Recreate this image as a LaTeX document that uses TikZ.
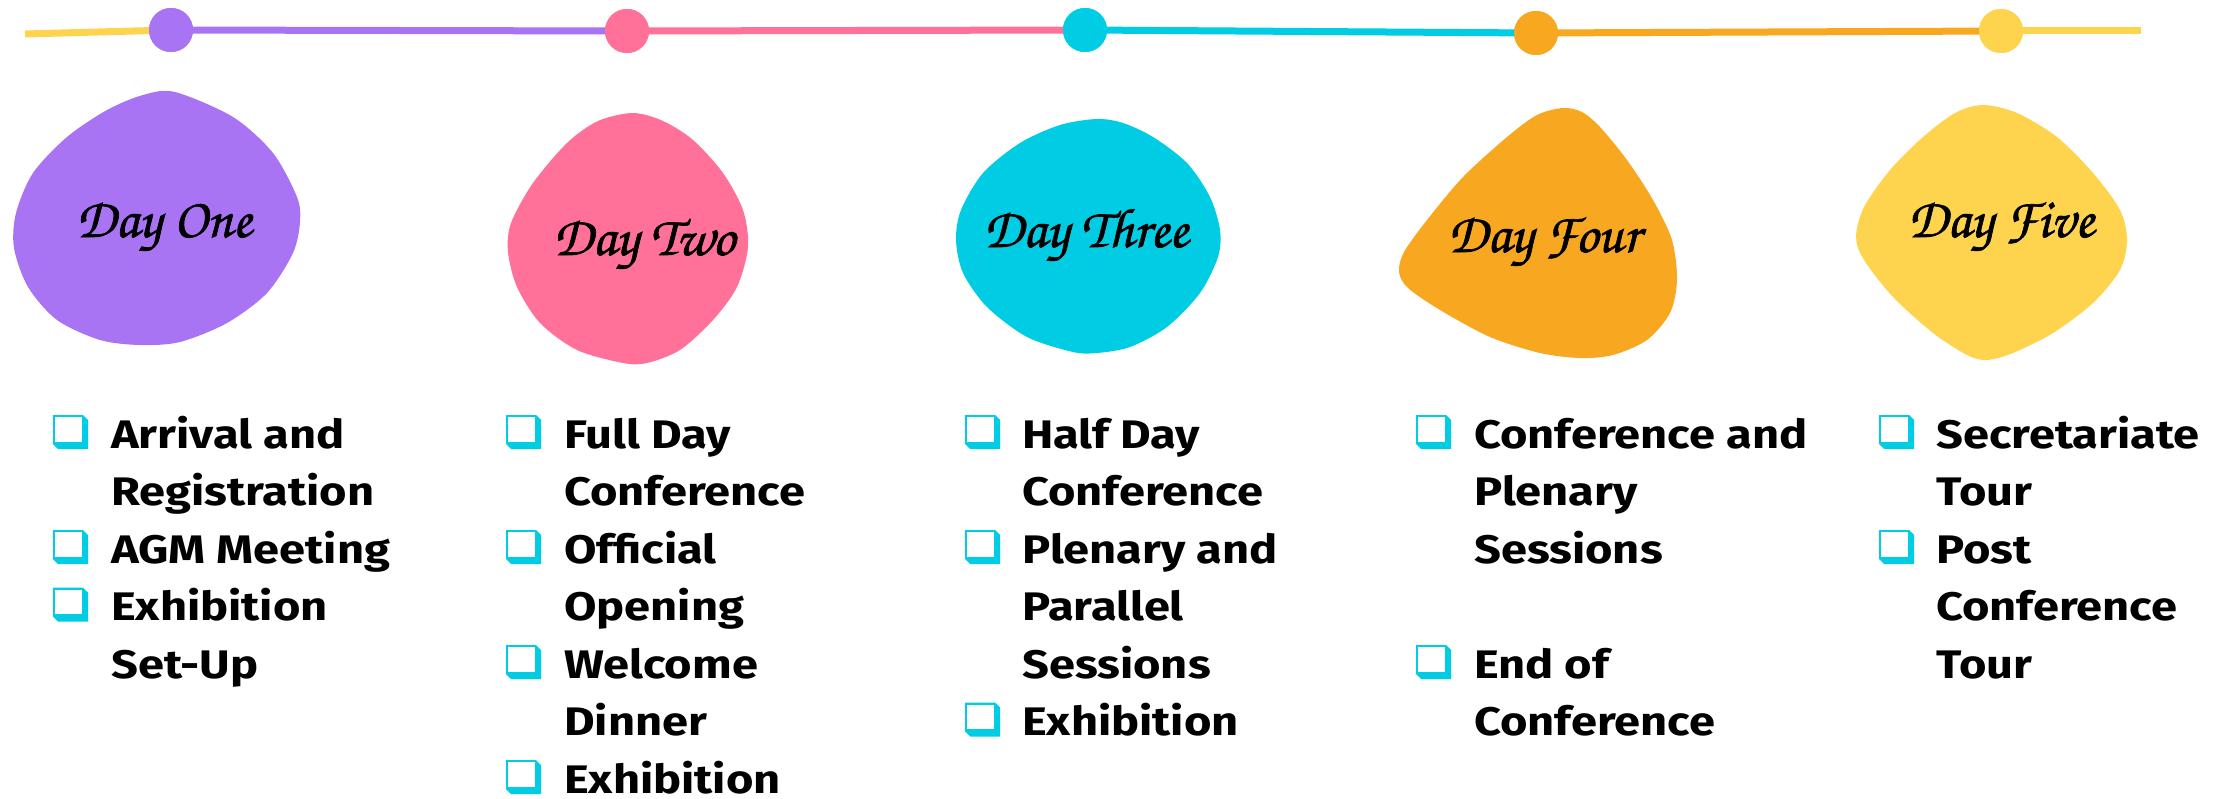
\documentclass[tikz,border=0pt]{standalone}
\usepackage{fontspec}
\newfontfamily\itemfont{Fira Sans}[FakeStretch=1.18]
\newfontfamily\dayfont{texgyrechorus-mediumitalic.otf}[FakeBold=1.2]
\definecolor{cPurple}{HTML}{A874F3}
\definecolor{cPink}{HTML}{FF7199}
\definecolor{cCyan}{HTML}{00CDE4}
\definecolor{cOrange}{HTML}{F8A820}
\definecolor{cYellow}{HTML}{FED44E}
\tikzset{
  itm/.style={font=\itemfont\bfseries\fontsize{40}{47}\selectfont, anchor=base west, inner sep=0pt, text depth=0pt},
  dayl/.style={font=\dayfont\fontsize{56}{60}\selectfont, anchor=base, inner sep=0pt},
  dot/.style={circle, minimum size=44bp, inner sep=0pt},
  tl/.style={line width=7bp},
  blob/.style={smooth cycle, tension=0.5},
  chk/.pic={
    \fill[cCyan] (0,0) -- (30,0) -- (35,5) -- (35,34) -- (5,34) -- (0,29) -- cycle;
    \fill[white] (2.4,2.4) rectangle (29,26.8);
  }
}
\begin{document}
\begin{tikzpicture}[x=1bp,y=-1bp]
\useasboundingbox (0,0) rectangle (2229,798);
% timeline
\coordinate (s) at (25,34);
\coordinate (e) at (2141,31);
\node[dot, fill=cPurple] (d1) at (171,30) {};
\node[dot, fill=cPink] (d2) at (627,31) {};
\node[dot, fill=cCyan] (d3) at (1085,30) {};
\node[dot, fill=cOrange] (d4) at (1536,33) {};
\node[dot, fill=cYellow] (d5) at (2001,31) {};
\draw[tl, cYellow] (s) -- (d1.center);
\draw[tl, cPurple] (d1.center) -- (d2.center);
\draw[tl, cPink] (d2.center) -- (d3.center);
\draw[tl, cCyan] (d3.center) -- (d4.center);
\draw[tl, cOrange] (d4.center) -- (d5.center);
\draw[tl, cYellow] (d5.center) -- (e);
\fill[cPurple] (d1) circle (22);
\fill[cPink] (d2) circle (22);
\fill[cCyan] (d3) circle (22);
\fill[cOrange] (d4) circle (22);
\fill[cYellow] (d5) circle (22);
% blobs
\fill[cPurple] plot[blob] coordinates {(175,92) (233,117) (273,153) (297,197) (300,222) (293,253) (267,293) (227,323) (180,342) (140,345) (100,340) (57,320) (28,287) (14,248) (16,213) (33,173) (67,137) (107,110) (143,95)};
\fill[cPink] plot[blob] coordinates {(633,113) (598,121) (567,143) (533,183) (511,223) (508,252) (517,287) (540,323) (577,350) (623,363) (647,363) (680,350) (713,320) (737,287) (748,247) (743,210) (723,173) (693,140) (663,121)};
\fill[cCyan] plot[blob] coordinates {(1097,119) (1060,125) (1020,143) (983,173) (961,210) (956,240) (963,273) (987,307) (1027,337) (1073,352) (1097,353) (1130,347) (1167,327) (1200,293) (1218,257) (1220,230) (1210,197) (1187,163) (1153,137) (1123,123)};
\fill[cOrange] plot[blob] coordinates {(1563,108) (1537,115) (1507,137) (1463,177) (1427,220) (1404,252) (1399,272) (1408,288) (1440,310) (1490,337) (1540,353) (1580,358) (1613,355) (1647,340) (1670,313) (1677,280) (1672,240) (1653,200) (1627,160) (1600,127) (1582,112)};
\fill[cYellow] plot[blob] coordinates {(1983,105) (1955,113) (1923,137) (1890,170) (1864,207) (1856,237) (1864,260) (1893,297) (1933,333) (1967,355) (1987,360) (2013,353) (2053,333) (2093,303) (2120,270) (2127,240) (2120,210) (2093,173) (2057,137) (2017,113)};
\node[dayl] (h1) at (164,237) {Day One};
\node[dayl] (h2) at (644,255) {Day Two};
\node[dayl] (h3) at (1086,247) {Day Three};
\node[dayl] (h4) at (1544,252) {Day Four};
\node[dayl] (h5) at (2001,237) {Day Five};
% column 1
\foreach \r/\t in {0/Arrival and,1/Registration,2/AGM Meeting,3/Exhibition,4/Set-Up}
  \node[itm] (a\r) at (111,{448+57.5*\r}) {\t};
\foreach \r in {0,2,3} \pic (ca\r) at (53,{415+57.5*\r}) {chk};
% column 2
\foreach \r/\t in {0/Full Day,1/Conference,2/Official,3/Opening,4/Welcome,5/Dinner,6/Exhibition}
  \node[itm] (b\r) at (564,{448+57.5*\r}) {\t};
\foreach \r in {0,2,4,6} \pic (cb\r) at (506,{415+57.5*\r}) {chk};
% column 3
\foreach \r/\t in {0/Half Day,1/Conference,2/Plenary and,3/Parallel,4/Sessions,5/Exhibition}
  \node[itm] (c\r) at (1022,{448+57.5*\r}) {\t};
\foreach \r in {0,2,5} \pic (cc\r) at (965,{415+57.5*\r}) {chk};
% column 4
\foreach \r/\t in {0/Conference and,1/Plenary,2/Sessions,4/End of,5/Conference}
  \node[itm] (e\r) at (1474,{448+57.5*\r}) {\t};
\foreach \r in {0,4} \pic (ce\r) at (1416,{415+57.5*\r}) {chk};
% column 5
\foreach \r/\t in {0/Secretariate,1/Tour,2/Post,3/Conference,4/Tour}
  \node[itm] (f\r) at (1936,{448+57.5*\r}) {\t};
\foreach \r in {0,2} \pic (cf\r) at (1879,{415+57.5*\r}) {chk};
\end{tikzpicture}
\end{document}
